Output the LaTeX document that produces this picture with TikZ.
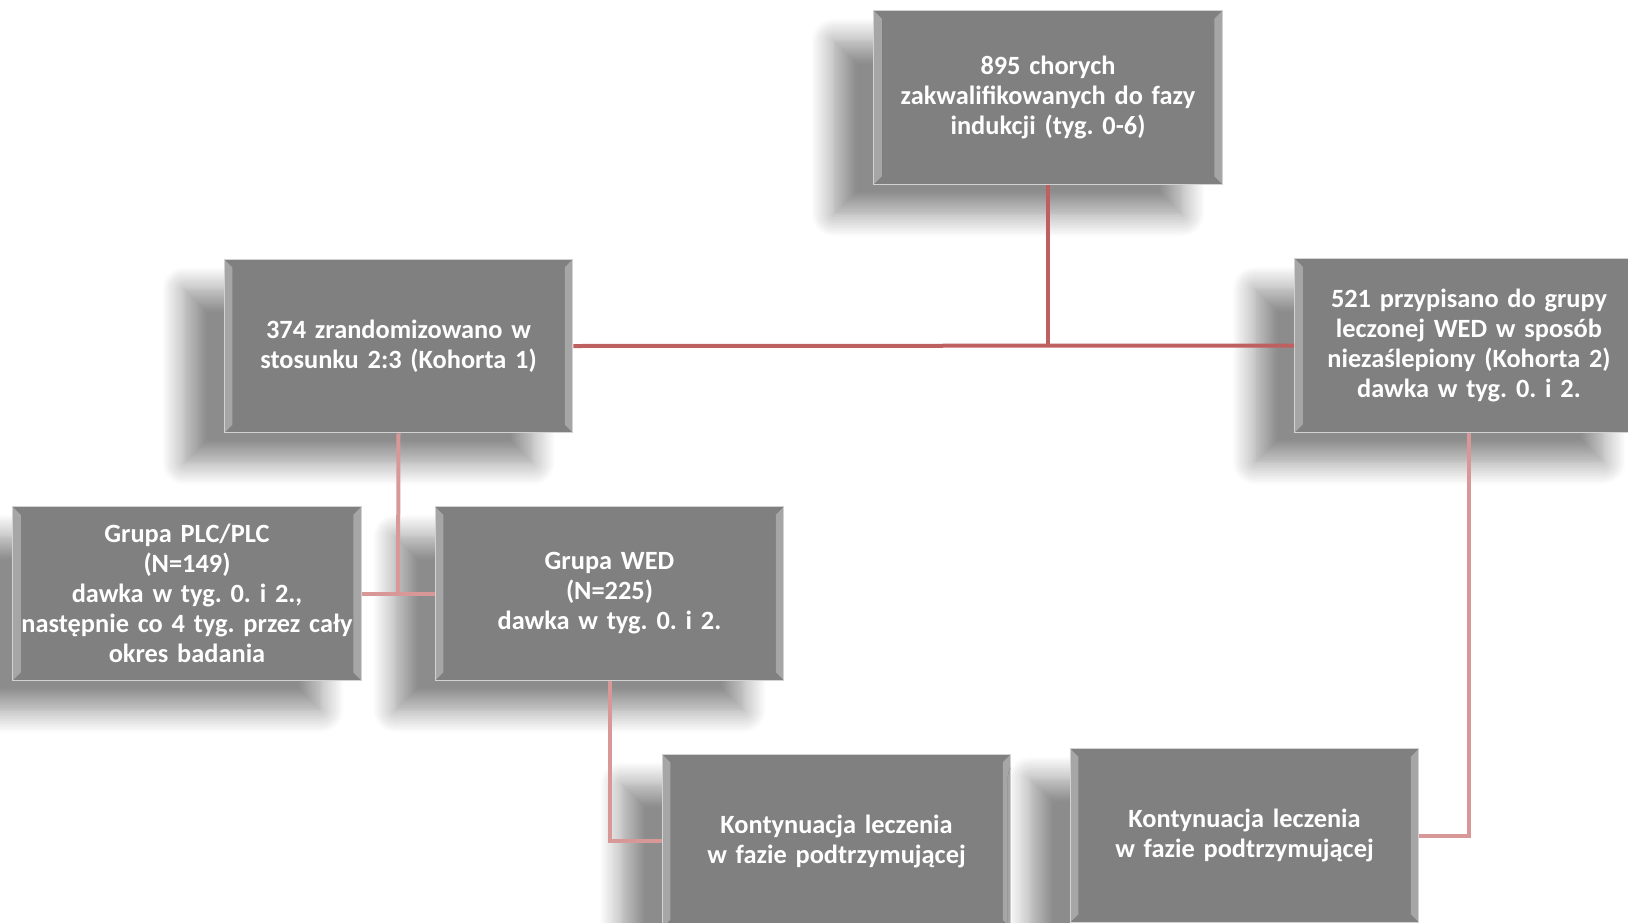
\documentclass[tikz,border=0pt]{standalone}
\usepackage{fontspec}
\setmainfont{Carlito}
\frenchspacing
\usetikzlibrary{shadows.blur}
\definecolor{boxgray}{RGB}{128,128,128}
\definecolor{lineA}{RGB}{190,96,96}
\definecolor{lineB}{RGB}{216,152,152}
\tikzset{
	stagebox/.style={rectangle, fill=boxgray, draw=gray!35, line width=0.6pt,
		minimum width=6.97cm, minimum height=3.47cm, inner xsep=0.03cm, text width=6.9cm, align=center,
		text=white, font=\bfseries\fontsize{15}{17.1}\selectfont,
		blur shadow={shadow xshift=-0.8cm, shadow yshift=-0.6cm, shadow blur radius=0.45cm,
			shadow opacity=45, shadow blur steps=12},
		path picture={
			\fill[white, opacity=.3] (path picture bounding box.north west) -- ++(0.16,-0.16)
				-- ([shift={(0.16,0.16)}]path picture bounding box.south west)
				-- (path picture bounding box.south west) -- cycle;
			\fill[white, opacity=.3] (path picture bounding box.north east) -- ++(-0.16,-0.16)
				-- ([shift={(-0.16,0.16)}]path picture bounding box.south east)
				-- (path picture bounding box.south east) -- cycle;
		}},
	linkA/.style={draw=lineA, line width=0.08cm},
	linkB/.style={draw=lineB, line width=0.08cm}
}
\begin{document}
\begin{tikzpicture}
		\useasboundingbox (0,0) rectangle (32.56,-18.44);
		%--joints of the connectors
		\coordinate (split) at (20.96,-6.93);
		\coordinate (splitB) at (7.96,-11.87);
		
		%--induction phase
		\node[stagebox] (indukcja) at (20.96,-1.95) {895 chorych\\ zakwalifikowanych do fazy\\ indukcji (tyg. 0-6)};
		%--cohorts
		\node[stagebox] (kohorta1) at (7.97,-6.92) {374 zrandomizowano w\\ stosunku 2:3 (Kohorta 1)};
		\node[stagebox] (kohorta2) at (29.38,-6.91) {521 przypisano do grupy\\ leczonej WED w sposób\\ niezaślepiony (Kohorta 2)\\ dawka w tyg. 0. i 2.};
		%--groups of cohort 1
		\node[stagebox] (plc) at (3.74,-11.87) {Grupa PLC/PLC\\ (N=149)\\ dawka w tyg. 0. i 2.,\\ następnie co 4 tyg. przez cały\\ okres badania};
		\node[stagebox] (wed) at (12.19,-11.87) {Grupa WED\\ (N=225)\\ dawka w tyg. 0. i 2.};
		%--maintenance phase
		\node[stagebox] (kont1) at (16.73,-16.82) {Kontynuacja leczenia\\ w fazie podtrzymującej};
		\node[stagebox] (kont2) at (24.89,-16.71) {Kontynuacja leczenia\\ w fazie podtrzymującej};
		
		%--connectors
		\draw[linkA] (indukcja.south) -- (split);
		\draw[linkA] (kohorta1.east) -- (kohorta2.west);
		\draw[linkB] (kohorta1.south) -- (splitB);
		\draw[linkB] (plc.east) -- (wed.west);
		\draw[linkB] (wed.south) |- (kont1.west);
		\draw[linkB] (kohorta2.south) |- (kont2.east);
	\end{tikzpicture}
\end{document}
